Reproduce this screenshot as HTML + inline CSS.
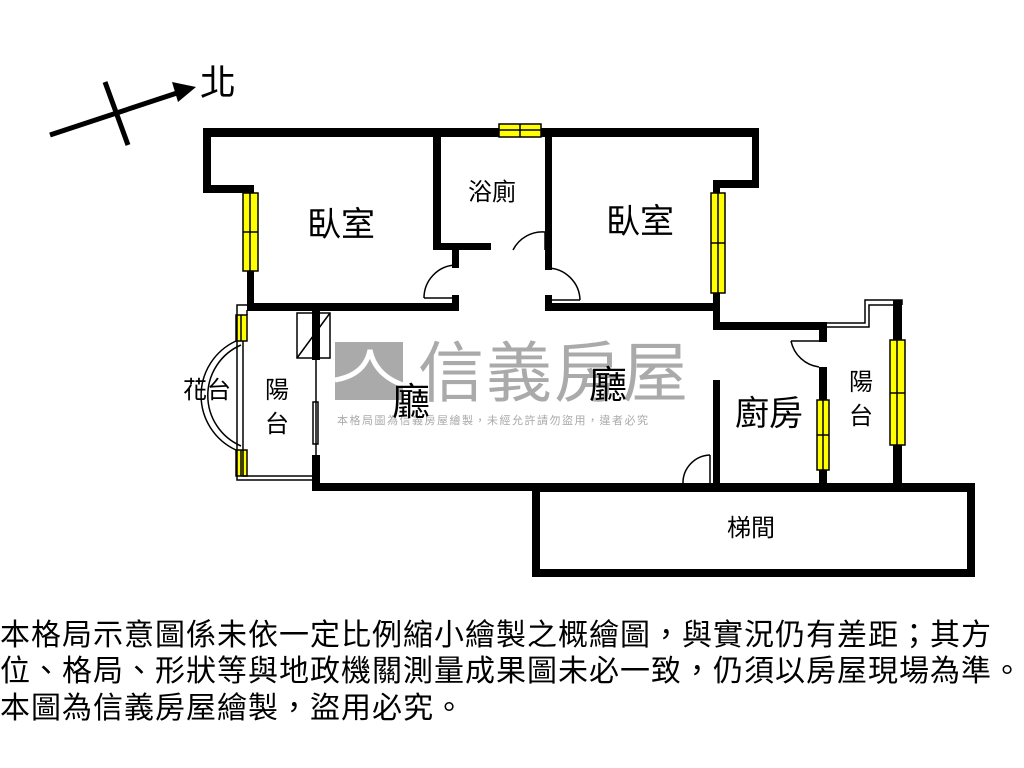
<!DOCTYPE html>
<html><head><meta charset="utf-8"><style>
body{margin:0;background:#fff;width:1024px;height:768px;overflow:hidden;position:relative;font-family:"Liberation Sans","Noto Sans CJK TC",sans-serif}
.t{position:absolute;left:0;font-size:30px;line-height:37px;color:#000;white-space:nowrap;font-family:"Noto Sans CJK TC",sans-serif;letter-spacing:1px}
</style></head><body>
<svg width="1024" height="768" style="position:absolute;left:0;top:0" font-family="Noto Sans CJK TC, sans-serif">
<!-- watermark -->
<rect x="335" y="342" width="68" height="58" fill="#aaa"/>
<path d="M335 380 Q365 375 370 350 Q375 375 403 385" stroke="#fff" stroke-width="5" fill="none"/>
<text x="418" y="396" font-size="66" fill="#aaa" letter-spacing="2">信義房屋</text>
<text x="337" y="424" font-size="11" fill="#aaa" letter-spacing="1.5">本格局圖為信義房屋繪製，未經允許請勿盜用，違者必究</text>
<!-- compass -->
<line x1="50" y1="135" x2="180" y2="92" stroke="#000" stroke-width="5"/>
<polygon points="196,87 172,82 178,102" fill="#000"/>
<line x1="105" y1="82" x2="128" y2="145" stroke="#000" stroke-width="5"/>
<text x="200" y="95" font-size="36">北</text>
<g fill="#000">
<rect x="203" y="128" width="556" height="9"/>
<rect x="203" y="128" width="8" height="65"/>
<rect x="203" y="185" width="51" height="8"/>
<rect x="247" y="185" width="7" height="125"/>
<rect x="752" y="128" width="7" height="60"/>
<rect x="713" y="180" width="46" height="8"/>
<rect x="713" y="180" width="7" height="150"/>
<rect x="433" y="128" width="8" height="122"/>
<rect x="433" y="243" width="58" height="7"/>
<rect x="545" y="128" width="7" height="142"/>
<rect x="452" y="250" width="7" height="18"/>
<rect x="247" y="303" width="212" height="8"/>
<rect x="452" y="295" width="7" height="15"/>
<rect x="545" y="303" width="175" height="8"/>
<rect x="545" y="295" width="7" height="15"/>
<rect x="713" y="322" width="114" height="8"/>
<rect x="819" y="322" width="8" height="20"/>
<rect x="819" y="367" width="8" height="123"/>
<rect x="713" y="380" width="7" height="110"/>
<rect x="312" y="310" width="8" height="50"/>
<rect x="312" y="455" width="8" height="35"/>
<rect x="312" y="483" width="590" height="8"/>
<rect x="893" y="300" width="9" height="190"/>
<rect x="532" y="483" width="443" height="9"/>
<rect x="532" y="483" width="8" height="94"/>
<rect x="967" y="483" width="8" height="94"/>
<rect x="532" y="569" width="443" height="8"/>
</g>
<g fill="#ff0" stroke="#000" stroke-width="1.5">
<rect x="499" y="124" width="42" height="13"/><line x1="520" y1="124" x2="520" y2="137"/><line x1="499" y1="130" x2="541" y2="130"/>
<rect x="243" y="193" width="15" height="78"/><line x1="250" y1="193" x2="250" y2="271"/><line x1="243" y1="232" x2="258" y2="232"/>
<rect x="711" y="193" width="14" height="100"/><line x1="718" y1="193" x2="718" y2="293"/><line x1="711" y1="243" x2="725" y2="243"/>
<rect x="817" y="400" width="12" height="70"/><line x1="823" y1="400" x2="823" y2="470"/><line x1="817" y1="435" x2="829" y2="435"/>
<rect x="890" y="340" width="15" height="105"/><line x1="897" y1="340" x2="897" y2="445"/><line x1="890" y1="393" x2="905" y2="393"/>
<rect x="236" y="315" width="11" height="26"/><line x1="241" y1="315" x2="241" y2="341"/>
<rect x="236" y="450" width="11" height="26"/><line x1="241" y1="450" x2="241" y2="476"/>
</g>
<g fill="none" stroke="#000" stroke-width="1.5">
<path d="M247 305 H237 V480 H312"/><path d="M247 310 V315 M243 341 V476 H312"/>
<path d="M236 341 A60 60 0 0 0 236 450"/><path d="M241 345 A55 55 0 0 0 241 446"/>
<rect x="297" y="313" width="33" height="45"/><line x1="297" y1="358" x2="330" y2="313"/>
<line x1="316" y1="360" x2="316" y2="455"/><rect x="313" y="402" width="5" height="42"/>
<path d="M827 323 H865 V300 H902 V305"/><path d="M827 327 H869 V305 H897"/>
<path d="M424 298 A33 33 0 0 1 455 265"/><line x1="424" y1="298" x2="459" y2="298"/>
<path d="M513 250 A33 33 0 0 1 545 232"/><line x1="545" y1="232" x2="545" y2="250"/>
<path d="M547 268 A33 33 0 0 1 580 300"/><line x1="547" y1="300" x2="580" y2="300"/>
<path d="M791 341 A33 33 0 0 0 819 367"/><line x1="791" y1="341" x2="820" y2="341"/>
<path d="M683 484 A28 28 0 0 1 710 455"/><line x1="710" y1="455" x2="710" y2="484"/>
</g>
<g font-size="34" fill="#000">
<text x="307" y="236">臥室</text>
<text x="606" y="233">臥室</text>
<text x="735" y="425">廚房</text>
</g>
<g font-size="24" fill="#000">
<text x="468" y="200">浴廁</text>
<text x="265" y="398">陽</text><text x="265" y="432">台</text>
<text x="849" y="390">陽</text><text x="849" y="424">台</text>
<text x="183" y="398">花台</text>
<text x="727" y="536">梯間</text>
</g>
<g font-size="38" fill="#000"><text x="392" y="415">廳</text><text x="589" y="398">廳</text></g>
</svg>
<div class="t" style="top:614px">本格局示意圖係未依一定比例縮小繪製之概繪圖，與實況仍有差距；其方</div>
<div class="t" style="top:650px">位、格局、形狀等與地政機關測量成果圖未必一致，仍須以房屋現場為準。</div>
<div class="t" style="top:687px">本圖為信義房屋繪製，盜用必究。</div>
</body></html>
